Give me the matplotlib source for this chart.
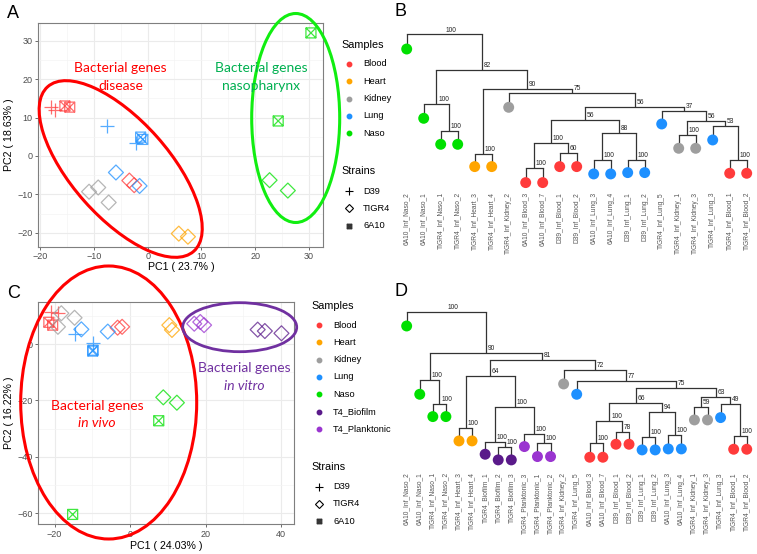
import numpy as np
import matplotlib
matplotlib.use("Agg")
import matplotlib.pyplot as plt
from matplotlib.patches import Ellipse
from matplotlib.path import Path
from matplotlib.transforms import Affine2D

plt.rcParams['font.family'] = ['Liberation Sans', 'DejaVu Sans']

# ---------------- data ----------------
sample_colors = {'Blood': '#FF3B3B', 'Heart': '#FFA500', 'Kidney': '#9E9E9E',
                 'Lung': '#1E90FF', 'Naso': '#00E000',
                 'T4_Biofilm': '#5A1A8A', 'T4_Planktonic': '#9A35D0'}

# panel A - PCA, infection samples
pca_a_sample = ['Blood', 'Blood', 'Blood', 'Blood', 'Blood', 'Blood',
                'Lung', 'Lung', 'Lung', 'Lung', 'Lung', 'Lung',
                'Kidney', 'Kidney', 'Kidney', 'Heart', 'Heart',
                'Naso', 'Naso', 'Naso', 'Naso']
pca_a_strain = ['D39', 'D39', '6A10', '6A10', 'TIGR4', 'TIGR4',
                'D39', 'D39', '6A10', '6A10', 'TIGR4', 'TIGR4',
                'TIGR4', 'TIGR4', 'TIGR4', 'TIGR4', 'TIGR4',
                '6A10', '6A10', 'TIGR4', 'TIGR4']
pca_a_pc1 = [-18.0, -17.2, -15.4, -14.5, -3.4, -2.5,
             -7.6, -2.1, -1.3, -0.9, -5.9, -1.5,
             -10.9, -9.2, -7.25, 5.8, 7.5,
             30.4, 24.3, 22.7, 26.1]
pca_a_pc2 = [12.7, 12.0, 13.0, 12.7, -6.4, -7.6,
             7.8, 3.3, 4.9, 4.3, -4.3, -7.8,
             -9.3, -8.2, -12.1, -20.2, -21.0,
             32.0, 9.1, -6.3, -9.0]

# panel C - PCA, infection + in vitro samples
pca_c_sample = ['Blood', 'Blood', 'Blood', 'Blood', 'Blood', 'Blood',
                'Kidney', 'Kidney', 'Kidney',
                'Lung', 'Lung', 'Lung', 'Lung', 'Lung', 'Lung',
                'Heart', 'Heart',
                'T4_Planktonic', 'T4_Planktonic', 'T4_Planktonic',
                'T4_Biofilm', 'T4_Biofilm', 'T4_Biofilm',
                'Naso', 'Naso', 'Naso', 'Naso']
pca_c_strain = ['D39', 'D39', '6A10', '6A10', 'TIGR4', 'TIGR4',
                'TIGR4', 'TIGR4', 'TIGR4',
                'D39', 'D39', 'TIGR4', 'TIGR4', '6A10', '6A10',
                'TIGR4', 'TIGR4',
                'TIGR4', 'TIGR4', 'TIGR4',
                'TIGR4', 'TIGR4', 'TIGR4',
                'TIGR4', 'TIGR4', '6A10', '6A10']
pca_c_pc1 = [-20.9, -19.1, -21.5, -20.5, -3.3, -2.1,
             -18.2, -14.7, -19.1,
             -14.7, -9.9, -12.9, -5.9, -9.9, -9.8,
             10.4, 11.1,
             17.0, 18.6, 19.6,
             33.8, 35.7, 40.1,
             8.8, 12.4, 7.6, -15.2]
pca_c_pc2 = [11.5, 10.9, 7.7, 6.7, 5.8, 6.1,
             10.9, 9.3, 6.1,
             3.4, 0.2, 5.2, 4.4, -2.5, -2.2,
             6.7, 5.0,
             7.2, 7.8, 6.7,
             5.1, 4.6, 3.8,
             -18.9, -20.8, -27.2, -60.4]

# panel B - dendrogram (leaf order, leaf heights, merges: left, right, height, support)
tree_b_labels = ['6A10_Inf_Naso_2', '6A10_Inf_Naso_1', 'TIGR4_Inf_Naso_1', 'TIGR4_Inf_Naso_2',
                 'TIGR4_Inf_Heart_3', 'TIGR4_Inf_Heart_4', 'TIGR4_Inf_Kidney_2',
                 '6A10_Inf_Blood_3', '6A10_Inf_Blood_7', 'D39_Inf_Blood_1', 'D39_Inf_Blood_2',
                 '6A10_Inf_Lung_3', '6A10_Inf_Lung_4', 'D39_Inf_Lung_1', 'D39_Inf_Lung_2',
                 'TIGR4_Inf_Lung_5', 'TIGR4_Inf_Kidney_1', 'TIGR4_Inf_Kidney_3',
                 'TIGR4_Inf_Lung_3', 'TIGR4_Inf_Blood_1', 'TIGR4_Inf_Blood_2']
tree_b_groups = ['Naso', 'Naso', 'Naso', 'Naso', 'Heart', 'Heart', 'Kidney',
                 'Blood', 'Blood', 'Blood', 'Blood', 'Lung', 'Lung', 'Lung', 'Lung',
                 'Lung', 'Kidney', 'Kidney', 'Lung', 'Blood', 'Blood']
tree_b_leaf_h = [4.53, 2.45, 1.67, 1.67, 1.00, 1.00, 2.78, 0.52, 0.52, 1.00, 1.00,
                 0.78, 0.78, 0.82, 0.82, 2.28, 1.55, 1.55, 1.80, 0.80, 0.80]
tree_b_merges = [(2, 3, 2.08, '100'), (1, 21, 2.87, '100'), (4, 5, 1.38, '100'),
                 (7, 8, 0.95, '100'), (9, 10, 1.40, '60'), (24, 25, 1.72, '100'),
                 (11, 12, 1.20, '100'), (13, 14, 1.20, '100'), (27, 28, 2.00, '88'),
                 (26, 29, 2.40, '56'), (16, 17, 1.95, '100'), (19, 20, 1.20, '100'),
                 (18, 32, 2.22, '53'), (31, 33, 2.38, '56'), (15, 34, 2.68, '37'),
                 (30, 35, 2.78, '56'), (6, 36, 3.20, '75'), (23, 37, 3.34, '90'),
                 (22, 38, 3.90, '82'), (0, 39, 4.97, '100')]

# panel D - dendrogram with in vitro samples
tree_d_labels = ['6A10_Inf_Naso_2', '6A10_Inf_Naso_1', 'TIGR4_Inf_Naso_1', 'TIGR4_Inf_Naso_2',
                 'TIGR4_Inf_Heart_3', 'TIGR4_Inf_Heart_4',
                 'TIGR4_Biofilm_1', 'TIGR4_Biofilm_2', 'TIGR4_Biofilm_3',
                 'TIGR4_Planktonic_3', 'TIGR4_Planktonic_1', 'TIGR4_Planktonic_2',
                 'TIGR4_Inf_Kidney_2', 'TIGR4_Inf_Lung_5',
                 '6A10_Inf_Blood_3', '6A10_Inf_Blood_7', 'D39_Inf_Blood_1', 'D39_Inf_Blood_2',
                 'D39_Inf_Lung_1', 'D39_Inf_Lung_2', '6A10_Inf_Lung_3', '6A10_Inf_Lung_4',
                 'TIGR4_Inf_Kidney_1', 'TIGR4_Inf_Kidney_3', 'TIGR4_Inf_Lung_3',
                 'TIGR4_Inf_Blood_1', 'TIGR4_Inf_Blood_2']
tree_d_groups = ['Naso', 'Naso', 'Naso', 'Naso', 'Heart', 'Heart',
                 'T4_Biofilm', 'T4_Biofilm', 'T4_Biofilm',
                 'T4_Planktonic', 'T4_Planktonic', 'T4_Planktonic',
                 'Kidney', 'Lung', 'Blood', 'Blood', 'Blood', 'Blood',
                 'Lung', 'Lung', 'Lung', 'Lung', 'Kidney', 'Kidney', 'Lung',
                 'Blood', 'Blood']
tree_d_leaf_h = [4.62, 2.57, 1.90, 1.90, 1.17, 1.17, 0.77, 0.60, 0.60, 1.00, 0.70, 0.70,
                 2.88, 2.57, 0.68, 0.68, 1.07, 1.07, 0.90, 0.90, 0.93, 0.93,
                 1.80, 1.80, 1.87, 0.92, 0.92]
tree_d_merges = [(2, 3, 2.27, '100'), (1, 27, 3.00, '100'), (4, 5, 1.57, '100'),
                 (7, 8, 1.00, '100'), (6, 30, 1.15, '100'), (10, 11, 1.10, '100'),
                 (9, 32, 1.38, '100'), (31, 33, 2.18, '100'), (29, 34, 3.13, '64'),
                 (14, 15, 1.10, '100'), (16, 17, 1.45, '78'), (36, 37, 1.78, '100'),
                 (18, 19, 1.30, '100'), (20, 21, 1.35, '100'), (39, 40, 2.05, '94'),
                 (38, 41, 2.32, '66'), (22, 23, 2.20, '59'), (25, 26, 1.33, '100'),
                 (24, 44, 2.28, '49'), (43, 45, 2.48, '63'), (42, 46, 2.75, '75'),
                 (13, 47, 2.98, '77'), (12, 48, 3.30, '72'), (35, 49, 3.60, '81'),
                 (28, 50, 3.82, '90'), (0, 51, 5.03, '100')]

# ---------------- figure ----------------
W, H = 757, 554
fig = plt.figure(figsize=(W / 100, H / 100), dpi=100)
# pixel coordinates (y down) for annotation layout
px = Affine2D().scale(0.01, -0.01).translate(0, H / 100) + fig.dpi_scale_trans


def box(l, t, r, b):
    return [l / W, 1 - b / H, (r - l) / W, (b - t) / H]


sqx_path = Path([(-1, -1), (1, -1), (1, 1), (-1, 1), (-1, -1), (-1, -1), (1, 1), (-1, 1), (1, -1)],
                [Path.MOVETO, Path.LINETO, Path.LINETO, Path.LINETO, Path.CLOSEPOLY,
                 Path.MOVETO, Path.LINETO, Path.MOVETO, Path.LINETO])
strain_marker = {'D39': '+', 'TIGR4': 'D', '6A10': sqx_path}
strain_size = {'D39': 110, 'TIGR4': 58, '6A10': 52}
ann_font = ['Lato', 'DejaVu Sans']


def pca_panel(ax, samples, strains, pc1, pc2, xlim, ylim, xticks, yticks, xminor, yminor):
    ax.set_xlim(*xlim)
    ax.set_ylim(*ylim)
    ax.set_xticks(xticks)
    ax.set_yticks(yticks)
    ax.set_xticks(xminor, minor=True)
    ax.set_yticks(yminor, minor=True)
    ax.grid(which='major', color='#EBEBEB', lw=0.8)
    ax.grid(which='minor', color='#F4F4F4', lw=0.5)
    ax.set_axisbelow(True)
    ax.tick_params(which='major', labelsize=6.5, labelcolor='#4D4D4D', color='#555555',
                   length=2.5, width=0.6, pad=1.5)
    ax.tick_params(which='minor', length=0)
    ax.set_xticklabels([str(t).replace('-', '\u2212') for t in xticks])
    ax.set_yticklabels([str(t).replace('-', '\u2212') for t in yticks])
    for s in ax.spines.values():
        s.set_color('#7F7F7F')
        s.set_linewidth(0.8)
    for smp, st, x, y in zip(samples, strains, pc1, pc2):
        c = sample_colors[smp]
        if st == 'D39':
            ax.scatter([x], [y], marker='+', s=strain_size[st], color=c, lw=0.9, alpha=0.75)
        else:
            ax.scatter([x], [y], marker=strain_marker[st], s=strain_size[st],
                       facecolors='none', edgecolors=c, lw=0.9, alpha=0.75)


def legend_block(x, y0, samples, dy=17.3):
    fig.text(x - 8, y0 - 19, 'Samples', transform=px, fontsize=7.8, ha='left', va='center')
    for i, smp in enumerate(samples):
        yy = y0 + i * dy
        fig.add_artist(plt.Line2D([x], [yy], transform=px, marker='o', ms=3.2, lw=0,
                                  color=sample_colors[smp]))
        fig.text(x + 14, yy, smp, transform=px, fontsize=6.7, ha='left', va='center')
    ys = y0 + len(samples) * dy + 21
    fig.text(x - 8, ys, 'Strains', transform=px, fontsize=7.8, ha='left', va='center')
    for i, st in enumerate(['D39', 'TIGR4', '6A10']):
        yy = ys + 19.5 + i * dy
        if st == 'D39':
            fig.add_artist(plt.Line2D([x], [yy], transform=px, marker='+', ms=6, lw=0,
                                      color='black', mew=0.8))
        elif st == 'TIGR4':
            fig.add_artist(plt.Line2D([x], [yy], transform=px, marker='D', ms=3.6, lw=0,
                                      mfc='none', mec='black', mew=0.8))
        else:
            fig.add_artist(plt.Line2D([x], [yy], transform=px, marker=sqx_path, ms=3.2, lw=0,
                                      mfc='none', mec='#333333', mew=1.0))
        fig.text(x + 14, yy, st, transform=px, fontsize=6.7, ha='left', va='center')


def tree_panel(ax, labels, groups, leaf_h, merges, xlim, ylim):
    n = len(labels)
    xpos = list(range(n))
    hpos = list(leaf_h)
    for a, b, h, sup in merges:
        for c in (a, b):
            ax.plot([xpos[c], xpos[c]], [hpos[c], h], color='#333333', lw=0.9,
                    solid_capstyle='butt', zorder=1)
        ax.plot([xpos[a], xpos[b]], [h, h], color='#333333', lw=0.9,
                solid_capstyle='projecting', zorder=1)
        xm = (xpos[a] + xpos[b]) / 2
        ax.annotate(sup, (xm, h), xytext=(1.2, 0.6), textcoords='offset points',
                    fontsize=4.8, color='#222222', ha='left', va='bottom')
        xpos.append(xm)
        hpos.append(h)
    ax.scatter(range(n), leaf_h, s=62, c=[sample_colors[g] for g in groups],
               edgecolors='none', zorder=3)
    ax.set_xlim(*xlim)
    ax.set_ylim(*ylim)
    ax.set_xticks(range(n))
    ax.set_xticklabels(labels, rotation=90, fontsize=4.8, color='#555555')
    ax.tick_params(axis='x', length=0, pad=1)
    ax.set_yticks([])
    for s in ax.spines.values():
        s.set_visible(False)
    ax.patch.set_alpha(0)


# ---- panel A ----
axA = fig.add_axes(box(38.3, 23.3, 323.3, 246.7))
pca_panel(axA, pca_a_sample, pca_a_strain, pca_a_pc1, pca_a_pc2,
          (-20.35, 32.7), (-23.6, 34.5), [-20, -10, 0, 10, 20, 30], [-20, -10, 0, 10, 20, 30],
          [-15, -5, 5, 15, 25], [-15, -5, 5, 15, 25])
fig.text(181.7, 266.5, 'PC1 ( 23.7% )', transform=px, fontsize=7.7, ha='center', va='center')
fig.text(9.3, 135, 'PC2 ( 18.63% )', transform=px, fontsize=7.7, ha='center', va='center',
         rotation=90)
legend_block(349, 64, ['Blood', 'Heart', 'Kidney', 'Lung', 'Naso'])

fig.add_artist(Ellipse((120.7, 169), 220, 97, angle=48.4, transform=px, fill=False,
                       ec='#FF0000', lw=2.2))
fig.add_artist(Ellipse((295.7, 118), 88, 209, angle=0, transform=px, fill=False,
                       ec='#11EE11', lw=2.2))
fig.text(120.7, 68, 'Bacterial genes', transform=px, fontsize=10, family=ann_font,
         color='#FF0000', ha='center', va='center')
fig.text(120.7, 86, 'disease', transform=px, fontsize=10, family=ann_font,
         color='#FF0000', ha='center', va='center')
fig.text(261, 68, 'Bacterial genes', transform=px, fontsize=10, family=ann_font,
         color='#00B050', ha='center', va='center')
fig.text(261, 86, 'nasopharynx', transform=px, fontsize=10, family=ann_font,
         color='#00B050', ha='center', va='center')

# ---- panel C ----
axC = fig.add_axes(box(38.3, 301.7, 294.3, 524.3))
pca_panel(axC, pca_c_sample, pca_c_strain, pca_c_pc1, pca_c_pc2,
          (-24.3, 43.5), (-63.9, 15.0), [-20, 0, 20, 40], [-60, -40, -20, 0],
          [-10, 10, 30], [-50, -30, -10, 10])
fig.text(166.7, 545.7, 'PC1 ( 24.03% )', transform=px, fontsize=7.7, ha='center', va='center')
fig.text(9.3, 413, 'PC2 ( 16.22% )', transform=px, fontsize=7.7, ha='center', va='center',
         rotation=90)
legend_block(319.3, 325, ['Blood', 'Heart', 'Kidney', 'Lung', 'Naso', 'T4_Biofilm', 'T4_Planktonic'])

fig.add_artist(Ellipse((108.7, 402.5), 176, 273, angle=0, transform=px, fill=False,
                       ec='#FF0000', lw=2.2))
fig.add_artist(Ellipse((239.7, 327.2), 114, 49, angle=0, transform=px, fill=False,
                       ec='#7030A0', lw=2.0))
fig.text(97.3, 405.7, 'Bacterial genes', transform=px, fontsize=10, family=ann_font,
         color='#FF0000', ha='center', va='center')
fig.text(97.3, 423, 'in vivo', transform=px, fontsize=10, family=ann_font,
         color='#FF0000', ha='center', va='center', style='italic')
fig.text(244, 368.3, 'Bacterial genes', transform=px, fontsize=10, family=ann_font,
         color='#7030A0', ha='center', va='center')
fig.text(244, 386, 'in vitro', transform=px, fontsize=10, family=ann_font,
         color='#7030A0', ha='center', va='center', style='italic')

# ---- panel B ----
axB = fig.add_axes(box(396.5, 26.7, 755.2, 190.6))
tree_panel(axB, tree_b_labels, tree_b_groups, tree_b_leaf_h, tree_b_merges,
           (-0.6, 20.5), (0.28, 5.2))

# ---- panel D ----
axD = fig.add_axes(box(396.2, 305.0, 754.6, 470.9))
tree_panel(axD, tree_d_labels, tree_d_groups, tree_d_leaf_h, tree_d_merges,
           (-0.8, 26.6), (0.27, 5.25))

# panel letters
for letter, (x, y) in zip('ABCD', [(12.5, 13), (400, 12), (13.7, 293), (400.8, 291.7)]):
    fig.text(x, y, letter, transform=px, fontsize=13, ha='center', va='center')

fig.savefig('out.png', dpi=100)
